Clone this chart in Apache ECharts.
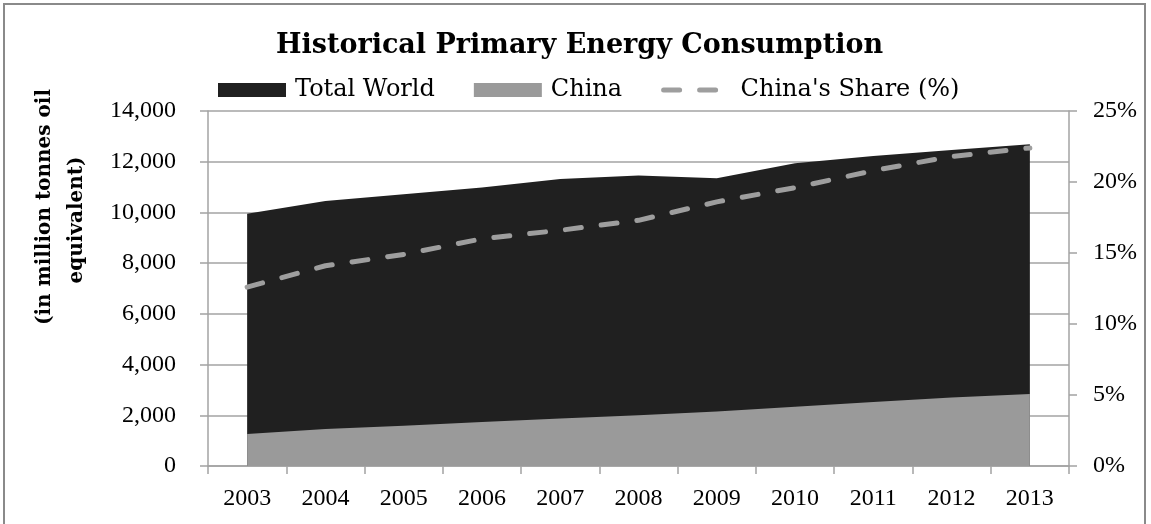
<!DOCTYPE html>
<html>
<head>
<meta charset="utf-8">
<script src="https://cdn.jsdelivr.net/npm/echarts@6/dist/echarts.min.js"></script>
<style>
  html, body { margin: 0; padding: 0; background: #ffffff; }
  #chart { width: 1151px; height: 524px; }
</style>
</head>
<body>
<div id="chart"></div>
<script>
// Primary energy consumption, million tonnes oil equivalent
const years = ['2003', '2004', '2005', '2006', '2007', '2008', '2009', '2010', '2011', '2012', '2013'];
const totalWorld = [9950, 10450, 10720, 10980, 11320, 11460, 11350, 11940, 12230, 12460, 12690];
const china = [1260, 1460, 1590, 1740, 1870, 2000, 2150, 2340, 2520, 2700, 2840];
// China's share of world consumption, percent
const chinaShare = [12.6, 14.1, 14.9, 16.0, 16.6, 17.3, 18.6, 19.6, 20.8, 21.8, 22.4];

const GRID_COLOR = '#a3a3a3';
const NUM_FONT = 'Liberation Serif';
const TEXT_FONT = 'DejaVu Serif';

const chart = echarts.init(document.getElementById('chart'), null, { renderer: 'canvas' });

chart.setOption({
  animation: false,
  backgroundColor: '#ffffff',
  title: {
    text: 'Historical Primary Energy Consumption',
    left: 276,
    top: 32,
    padding: 0,
    textStyle: { fontFamily: TEXT_FONT, fontWeight: 'bold', fontSize: 27, lineHeight: 28, color: '#000000' }
  },
  legend: {
    left: 218,
    top: 78,
    padding: 0,
    itemWidth: 68,
    itemHeight: 14,
    itemGap: 39,
    textStyle: { fontFamily: TEXT_FONT, fontSize: 24, color: '#000000', padding: [0, 0, 0, 4] },
    data: [
      { name: 'Total World', icon: 'rect', itemStyle: { color: '#202020' } },
      { name: 'China', icon: 'rect', itemStyle: { color: '#9a9a9a' } },
      {
        name: "China's Share (%)",
        itemStyle: { opacity: 0 },
        lineStyle: { color: '#9e9e9e', width: 5, type: [16, 20], cap: 'round' }
      }
    ]
  },
  grid: { left: 208, right: 82, top: 111, bottom: 58, containLabel: false },
  xAxis: {
    type: 'category',
    data: years,
    boundaryGap: true,
    axisLine: { show: true, lineStyle: { color: GRID_COLOR, width: 1.5 } },
    axisTick: { show: true, length: 8, lineStyle: { color: GRID_COLOR, width: 1.5 } },
    axisLabel: { margin: 21, fontFamily: NUM_FONT, fontSize: 24, color: '#000000' }
  },
  yAxis: [
    {
      type: 'value',
      min: 0, max: 14000, interval: 2000,
      axisLine: { show: true, lineStyle: { color: GRID_COLOR, width: 1.5 } },
      axisTick: { show: true, length: 8, lineStyle: { color: GRID_COLOR, width: 1.5 } },
      splitLine: { show: true, lineStyle: { color: GRID_COLOR, width: 1.5 } },
      axisLabel: {
        margin: 32, fontFamily: NUM_FONT, fontSize: 24, color: '#000000',
        formatter: v => v.toLocaleString('en-US')
      }
    },
    {
      type: 'value',
      position: 'right',
      min: 0, max: 25, interval: 5,
      axisLine: { show: true, lineStyle: { color: GRID_COLOR, width: 1.5 } },
      axisTick: { show: true, length: 8, lineStyle: { color: GRID_COLOR, width: 1.5 } },
      splitLine: { show: false },
      axisLabel: { margin: 24, fontFamily: NUM_FONT, fontSize: 24, color: '#000000', formatter: '{value}%' }
    }
  ],
  series: [
    {
      name: 'Total World',
      type: 'line',
      data: totalWorld,
      symbol: 'none',
      color: '#202020',
      lineStyle: { width: 0, color: '#202020' },
      areaStyle: { color: '#202020', opacity: 1 },
      z: 2
    },
    {
      name: 'China',
      type: 'line',
      data: china,
      symbol: 'none',
      color: '#9a9a9a',
      lineStyle: { width: 0, color: '#9a9a9a' },
      areaStyle: { color: '#9a9a9a', opacity: 1 },
      z: 3
    },
    {
      name: "China's Share (%)",
      type: 'line',
      yAxisIndex: 1,
      data: chinaShare,
      symbol: 'none',
      color: '#9e9e9e',
      lineStyle: { color: '#9e9e9e', width: 5, type: [16, 20], cap: 'round' },
      z: 4
    }
  ],
  graphic: [
    {
      type: 'rect',
      shape: { x: 4, y: 4, width: 1141, height: 540 },
      style: { fill: 'none', stroke: '#8a8a8a', lineWidth: 2 },
      silent: true
    },
    {
      type: 'text',
      x: 45, y: 207,
      rotation: Math.PI / 2,
      style: {
        text: '(in million tonnes oil',
        font: 'bold 20px "DejaVu Serif"',
        fill: '#000000',
        align: 'center',
        verticalAlign: 'middle'
      },
      silent: true
    },
    {
      type: 'text',
      x: 77, y: 220,
      rotation: Math.PI / 2,
      style: {
        text: 'equivalent)',
        font: 'bold 20px "DejaVu Serif"',
        fill: '#000000',
        align: 'center',
        verticalAlign: 'middle'
      },
      silent: true
    }
  ]
});
</script>
</body>
</html>
